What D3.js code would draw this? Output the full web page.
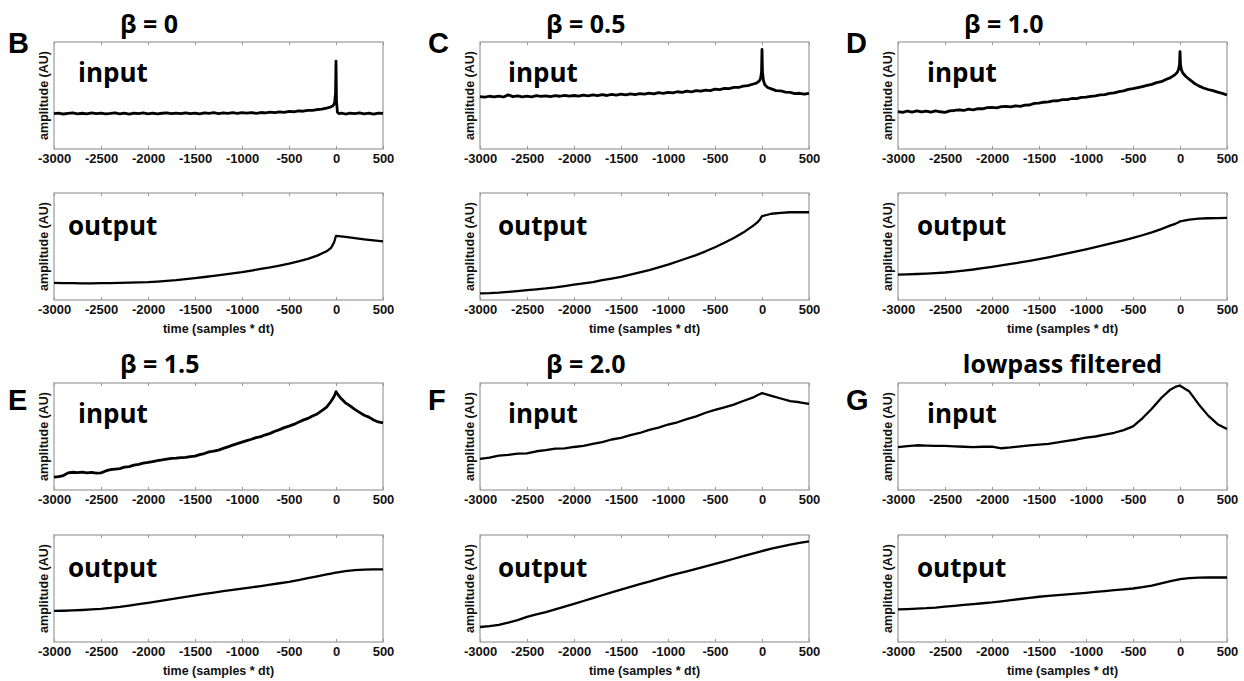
<!DOCTYPE html>
<html>
<head>
<meta charset="utf-8">
<script src="https://cdn.jsdelivr.net/npm/d3@7"></script>
<style>
  body { margin: 0; background: #fff; }
</style>
</head>
<body>
<div id="chart"></div>
<script>
// sample times (samples * dt)
const timeNoisy = [
  -3000, -2950, -2900, -2850, -2800, -2750, -2700, -2650, -2600, -2550,
  -2500, -2450, -2400, -2350, -2300, -2250, -2200, -2150, -2100, -2050,
  -2000, -1950, -1900, -1850, -1800, -1750, -1700, -1650, -1600, -1550,
  -1500, -1450, -1400, -1350, -1300, -1250, -1200, -1150, -1100, -1050,
  -1000, -950, -900, -850, -800, -750, -700, -650, -600, -550,
  -500, -450, -400, -350, -300, -250, -200, -150, -100,
  -60, -30, -15, -5, 0, 5, 15, 30, 60,
  100, 150, 200, 250, 300, 350, 400, 450, 500
];
const timeSmooth = [
  -3000, -2900, -2800, -2700, -2600, -2500, -2400, -2300, -2200, -2100,
  -2000, -1900, -1800, -1700, -1600, -1500, -1400, -1300, -1200, -1100,
  -1000, -900, -800, -700, -600, -500, -400, -300, -200, -100,
  -50, -20, 0, 100, 200, 300, 400, 500
];
const xTicks = [-3000, -2500, -2000, -1500, -1000, -500, 0, 500];

const panelLetters = ["B", "C", "D", "E", "F", "G"];
const panelTitles = ["β = 0", "β = 0.5", "β = 1.0", "β = 1.5", "β = 2.0", "lowpass filtered"];

// inputs (amplitude, AU)
const inputB = [
  .330, .336, .327, .333, .338, .329, .334, .328, .337, .331,
  .336, .329, .333, .338, .328, .335, .327, .336, .331, .337,
  .329, .336, .328, .334, .338, .330, .335, .331, .337, .330,
  .336, .329, .338, .333, .339, .331, .337, .333, .340, .332,
  .339, .335, .341, .334, .341, .338, .344, .340, .347, .343,
  .352, .348, .356, .353, .361, .361, .369, .373, .383,
  .392, .405, .430, .520, .820, .450, .345, .330, .336,
  .327, .336, .330, .337, .328, .335, .327, .336, .332
];
const inputC = [
  .490, .484, .493, .487, .495, .486, .506, .489, .496, .487,
  .495, .488, .499, .491, .497, .490, .499, .493, .502, .494,
  .500, .494, .504, .497, .505, .499, .508, .500, .510, .504,
  .512, .505, .515, .509, .518, .512, .522, .515, .526, .520,
  .530, .524, .535, .529, .540, .534, .545, .540, .551, .546,
  .559, .555, .567, .564, .576, .575, .588, .592, .605,
  .615, .635, .660, .720, .930, .720, .640, .600, .575,
  .562, .546, .543, .532, .530, .518, .521, .513, .520
];
const inputD = [
  .350, .342, .355, .345, .357, .346, .354, .344, .356, .348,
  .343, .357, .360, .366, .360, .372, .366, .377, .376, .386,
  .390, .384, .396, .398, .393, .404, .399, .410, .411, .426,
  .428, .437, .440, .450, .451, .462, .461, .472, .471, .482,
  .484, .492, .497, .505, .509, .520, .524, .537, .544, .557,
  .564, .574, .584, .594, .604, .620, .629, .650, .667,
  .690, .715, .745, .790, .910, .790, .740, .710, .680,
  .650, .615, .590, .570, .556, .545, .532, .520, .505
];
const inputE = [
  .120, .125, .135, .160, .166, .162, .167, .161, .165, .157,
  .160, .178, .190, .196, .200, .213, .219, .233, .240, .251,
  .258, .266, .274, .281, .289, .296, .297, .303, .304, .311,
  .317, .331, .341, .356, .364, .373, .389, .403, .419, .433,
  .447, .461, .474, .489, .499, .516, .529, .549, .564, .583,
  .597, .613, .634, .653, .669, .691, .711, .741, .774,
  .820, .860, .885, .905, .920, .910, .900, .880, .850,
  .815, .786, .754, .726, .699, .681, .654, .636, .628
];
const inputF = [
  .290, .303, .322, .328, .340, .343, .362, .373, .387, .389,
  .402, .413, .432, .448, .472, .488, .512, .533, .562, .583,
  .612, .633, .662, .688, .722, .748, .772, .798, .832, .863,
  .885, .897, .905, .880, .855, .830, .820, .805
];
const inputG = [
  .400, .410, .418, .415, .413, .412, .408, .404, .400, .404,
  .405, .390, .398, .408, .418, .425, .432, .445, .460, .472,
  .490, .500, .518, .535, .560, .595, .670, .760, .860, .940,
  .963, .972, .975, .920, .800, .695, .615, .570
];

// outputs (amplitude, AU)
const outputB = [
  .160, .158, .157, .156, .156, .157, .158, .160, .162, .164,
  .167, .172, .178, .185, .195, .205, .215, .226, .237, .248,
  .260, .275, .290, .305, .322, .340, .362, .385, .415, .455,
  .490, .540, .600, .590, .578, .567, .557, .548
];
const outputC = [
  .062, .064, .068, .075, .083, .092, .100, .108, .118, .130,
  .143, .155, .168, .185, .200, .217, .237, .258, .280, .305,
  .330, .360, .390, .420, .455, .493, .535, .580, .630, .690,
  .725, .755, .783, .806, .815, .820, .822, .820
];
const outputD = [
  .238, .240, .243, .247, .252, .257, .265, .275, .285, .297,
  .310, .323, .337, .351, .366, .381, .398, .417, .436, .455,
  .474, .495, .516, .537, .558, .580, .605, .632, .662, .697,
  .712, .724, .734, .752, .760, .764, .766, .768
];
const outputE = [
  .290, .292, .295, .299, .304, .310, .318, .328, .340, .353,
  .366, .380, .394, .408, .422, .436, .449, .462, .475, .487,
  .499, .511, .523, .536, .549, .562, .578, .596, .614, .632,
  .640, .645, .648, .662, .671, .676, .678, .679
];
const outputF = [
  .140, .148, .160, .180, .205, .235, .258, .280, .305, .330,
  .357, .383, .410, .437, .463, .490, .515, .540, .565, .590,
  .615, .638, .661, .684, .707, .730, .754, .778, .802, .826,
  .838, .845, .850, .873, .892, .910, .926, .940
];
const outputG = [
  .305, .308, .312, .316, .322, .330, .338, .346, .354, .362,
  .370, .380, .391, .402, .413, .423, .431, .439, .446, .453,
  .460, .468, .476, .484, .492, .500, .512, .527, .548, .570,
  .578, .584, .588, .597, .601, .603, .603, .603
];

(function() {
    const width = 1244, height = 681;
    const boxW = 329, boxH = 107;
    const colLeft = [54, 480, 898];
    const letterX = [8, 428, 846];
    const inLabelDx = [24, 28, 29];
    const outLabelDx = [14, 18, 19];
    const rows = [
        {input: 42, output: 193, title: 33, letter: 53},
        {input: 383, output: 535, title: 373, letter: 410}
    ];
    const labelFont = "'Open Sans', 'DejaVu Sans', sans-serif";
    const axisFont = "'Liberation Sans', Arial, sans-serif";

    const panels = [
        {inT: timeNoisy, inV: inputB, outV: outputB, noisy: true},
        {inT: timeNoisy, inV: inputC, outV: outputC, noisy: true},
        {inT: timeNoisy, inV: inputD, outV: outputD, noisy: true},
        {inT: timeNoisy, inV: inputE, outV: outputE, noisy: true},
        {inT: timeSmooth, inV: inputF, outV: outputF, noisy: false},
        {inT: timeSmooth, inV: inputG, outV: outputG, noisy: false}
    ];

    const svg = d3.select("#chart")
        .append("svg")
        .attr("width", width)
        .attr("height", height)
        .style("display", "block");

    function drawPlot(left, top, times, values, label, labelDx, withXLabel, lineWidth) {
        const x = d3.scaleLinear().domain([-3000, 500]).range([left, left + boxW]);
        const y = d3.scaleLinear().domain([0, 1]).range([top + boxH, top]);

        svg.append("rect")
            .attr("x", left)
            .attr("y", top)
            .attr("width", boxW)
            .attr("height", boxH)
            .attr("fill", "none")
            .attr("stroke", "#9a9a9a")
            .attr("stroke-width", 1.2);

        // bottom axis, ticks pointing inward
        const bottom = svg.append("g")
            .attr("transform", `translate(0,${top + boxH})`)
            .call(d3.axisBottom(x).tickValues(xTicks).tickSizeInner(-3).tickSizeOuter(0)
                .tickPadding(5).tickFormat(d => String(d)));
        bottom.select(".domain").remove();
        bottom.selectAll("line").attr("stroke", "#9a9a9a");
        bottom.selectAll("text")
            .attr("font-family", axisFont)
            .attr("font-weight", "bold")
            .attr("font-size", 13)
            .attr("fill", "#111");

        // top ticks
        const topAxis = svg.append("g")
            .attr("transform", `translate(0,${top})`)
            .call(d3.axisTop(x).tickValues(xTicks).tickSizeInner(-3).tickSizeOuter(0).tickFormat(""));
        topAxis.select(".domain").remove();
        topAxis.selectAll("line").attr("stroke", "#9a9a9a");

        // y label
        svg.append("text")
            .attr("transform", `translate(${left - 6},${top + boxH / 2}) rotate(-90)`)
            .attr("text-anchor", "middle")
            .attr("font-family", axisFont)
            .attr("font-weight", "bold")
            .attr("font-size", 12.5)
            .attr("fill", "#111")
            .text("amplitude (AU)");

        if (withXLabel) {
            svg.append("text")
                .attr("x", left + boxW / 2)
                .attr("y", top + boxH + 33)
                .attr("text-anchor", "middle")
                .attr("font-family", axisFont)
                .attr("font-weight", "bold")
                .attr("font-size", 12.5)
                .attr("fill", "#111")
                .text("time (samples * dt)");
        }

        const line = d3.line()
            .x(d => x(d[0]))
            .y(d => y(d[1]));

        svg.append("path")
            .datum(times.map((t, k) => [t, values[k]]))
            .attr("d", line)
            .attr("fill", "none")
            .attr("stroke", "#000")
            .attr("stroke-width", lineWidth)
            .attr("stroke-linejoin", "round");

        svg.append("text")
            .attr("x", left + labelDx)
            .attr("y", top + (label === "input" ? 40 : 42))
            .attr("font-family", labelFont)
            .attr("font-weight", "bold")
            .attr("font-size", 26)
            .attr("fill", "#000")
            .text(label);
    }

    panels.forEach((p, i) => {
        const col = i % 3;
        const row = rows[Math.floor(i / 3)];
        const left = colLeft[col];

        // panel letter
        svg.append("text")
            .attr("x", letterX[col])
            .attr("y", row.letter)
            .attr("font-family", axisFont)
            .attr("font-weight", "bold")
            .attr("font-size", 29)
            .attr("fill", "#000")
            .text(panelLetters[i]);

        // title
        const centred = panelTitles[i] === "lowpass filtered";
        svg.append("text")
            .attr("x", centred ? left + boxW / 2 : left + 66)
            .attr("y", row.title)
            .attr("text-anchor", centred ? "middle" : "start")
            .attr("font-family", labelFont)
            .attr("font-weight", "bold")
            .attr("font-size", 25)
            .attr("fill", "#000")
            .text(panelTitles[i]);

        drawPlot(left, row.input, p.inT, p.inV, "input", inLabelDx[col], false, p.noisy ? 2.8 : 2.3);
        drawPlot(left, row.output, timeSmooth, p.outV, "output", outLabelDx[col], true, 2.3);
    });
})();
</script>
</body>
</html>
